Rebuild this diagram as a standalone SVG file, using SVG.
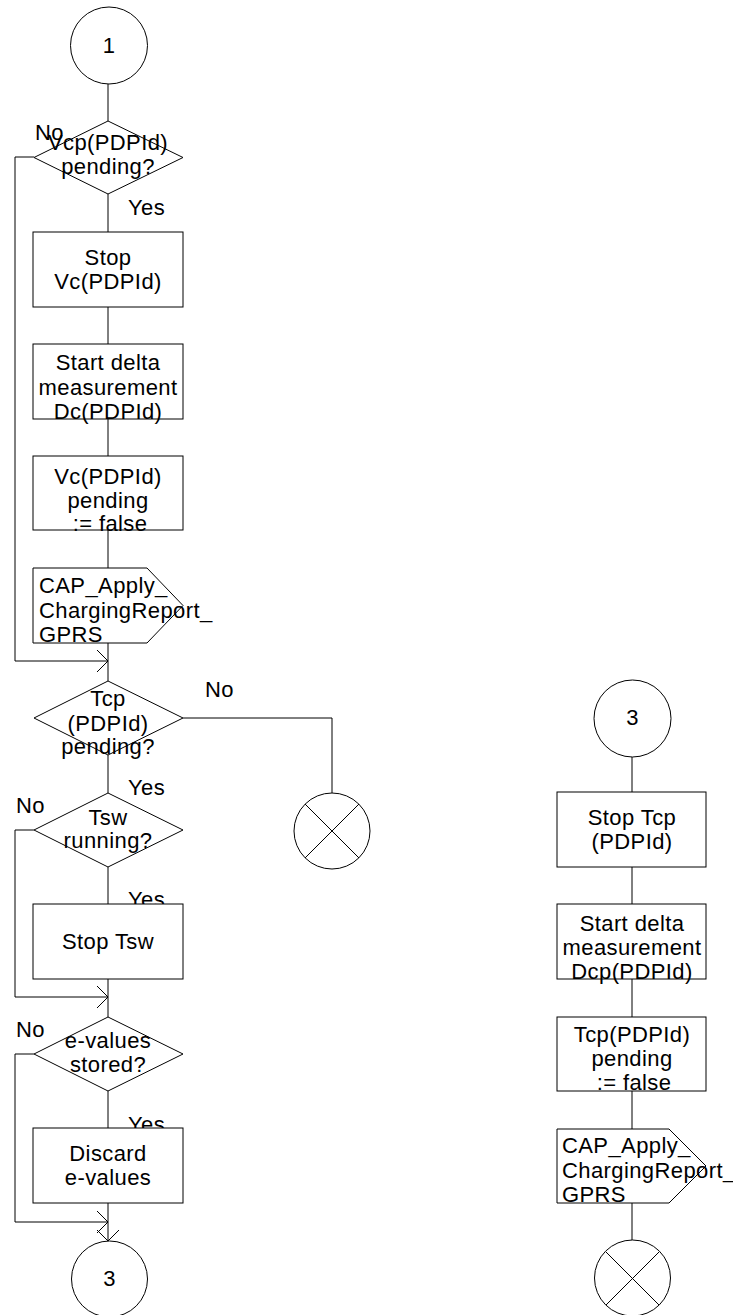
<svg xmlns="http://www.w3.org/2000/svg" width="733" height="1315" viewBox="0 0 733 1315">
<style>
.s{fill:#fff;stroke:#000;stroke-width:1}
.c{fill:none;stroke:#000;stroke-width:1}
text{font-family:"Liberation Sans",Arial,sans-serif;font-size:22px;letter-spacing:0.4px;fill:#000}
.m{text-anchor:middle}
</style>
<defs>
<marker id="arr" markerUnits="userSpaceOnUse" markerWidth="14" markerHeight="26" refX="11" refY="11" orient="auto" viewBox="-1 -1 14 24">
<path d="M0,0 L11,11 L0,22" fill="none" stroke="#000" stroke-width="1"/>
</marker>
</defs>
<rect width="733" height="1315" fill="#fff"/>
<g id="connectors" class="c">
<path d="M108,84 V121"/>
<path d="M108,194 V232"/>
<path d="M108,307 V344"/>
<path d="M108,419 V456"/>
<path d="M108,530 V568"/>
<path d="M108,643 V681"/>
<path d="M34,157 H15 V661 H108" marker-end="url(#arr)"/>
<path d="M183,718 H332 V793"/>
<path d="M108,755 V793"/>
<path d="M108,867 V904"/>
<path d="M34,830 H15 V997 H108" marker-end="url(#arr)"/>
<path d="M108,979 V1017"/>
<path d="M108,1091 V1128"/>
<path d="M34,1054 H15 V1222 H108" marker-end="url(#arr)"/>
<path d="M108,1203 V1241" marker-end="url(#arr)"/>
<path d="M632,757 V792"/>
<path d="M632,867 V904"/>
<path d="M632,979 V1017"/>
<path d="M632,1091 V1129"/>
<path d="M632,1203 V1240"/>
</g>
<g id="start1">
<circle class="s" cx="109" cy="45.5" r="38.5"/>
<text class="m" x="109" y="53">1</text>
</g>
<g id="dec_vcp">
<polygon class="s" points="108,121 183,157.5 108,194 34,157.5"/>
<text class="m" x="108" y="150">Vcp(PDPId)</text>
<text class="m" x="108" y="174">pending?</text>
<text x="35" y="140">No</text>
<text x="128" y="215">Yes</text>
</g>
<g id="box_stopvc">
<rect class="s" x="33" y="232" width="150" height="75"/>
<text class="m" x="108" y="265">Stop</text>
<text class="m" x="108" y="289">Vc(PDPId)</text>
</g>
<g id="box_startdc">
<rect class="s" x="33" y="344" width="150" height="75"/>
<text class="m" x="108" y="370">Start delta</text>
<text class="m" x="108" y="395">measurement</text>
<text class="m" x="108" y="419">Dc(PDPId)</text>
</g>
<g id="box_vcfalse">
<rect class="s" x="33" y="456" width="150" height="74"/>
<text class="m" x="108" y="484">Vc(PDPId)</text>
<text class="m" x="108" y="508">pending</text>
<text class="m" x="110" y="531">:= false</text>
</g>
<g id="out1">
<polygon class="s" points="33,568 147,568 183,605.5 147,643 33,643"/>
<text x="39" y="593">CAP_Apply_</text>
<text x="39" y="618">ChargingReport_</text>
<text x="39" y="642">GPRS</text>
</g>
<g id="dec_tcp">
<polygon class="s" points="108,681 183,718 108,755 34,718"/>
<text class="m" x="108" y="706">Tcp</text>
<text class="m" x="108" y="731">(PDPId)</text>
<text class="m" x="108" y="754">pending?</text>
<text x="205" y="697">No</text>
<text x="128" y="795">Yes</text>
</g>
<g id="stop1">
<circle class="s" cx="332" cy="831" r="38"/>
<path class="c" d="M305,804 L359,858 M359,804 L305,858"/>
</g>
<g id="dec_tsw">
<polygon class="s" points="108,793 183,830 108,867 34,830"/>
<text class="m" x="108" y="825">Tsw</text>
<text class="m" x="108" y="848">running?</text>
<text x="16" y="813">No</text>
<text x="128" y="907">Yes</text>
</g>
<g id="box_stoptsw">
<rect class="s" x="33" y="904" width="150" height="75"/>
<text class="m" x="108" y="949">Stop Tsw</text>
</g>
<g id="dec_evalues">
<polygon class="s" points="108,1017 183,1054 108,1091 34,1054"/>
<text class="m" x="108" y="1048">e-values</text>
<text class="m" x="108" y="1072">stored?</text>
<text x="16" y="1037">No</text>
<text x="128" y="1132">Yes</text>
</g>
<g id="box_discard">
<rect class="s" x="33" y="1128" width="150" height="75"/>
<text class="m" x="108" y="1161">Discard</text>
<text class="m" x="108" y="1185">e-values</text>
</g>
<g id="conn3_out">
<circle class="s" cx="109.5" cy="1279" r="38"/>
<text class="m" x="109.5" y="1286">3</text>
</g>
<g id="conn3_in">
<circle class="s" cx="632.5" cy="718.5" r="38.5"/>
<text class="m" x="632.5" y="725">3</text>
</g>
<g id="box_stoptcp">
<rect class="s" x="557" y="792" width="149" height="75"/>
<text class="m" x="632" y="825">Stop Tcp</text>
<text class="m" x="632" y="849">(PDPId)</text>
</g>
<g id="box_startdcp">
<rect class="s" x="557" y="904" width="149" height="75"/>
<text class="m" x="632" y="931">Start delta</text>
<text class="m" x="632" y="955">measurement</text>
<text class="m" x="632" y="979">Dcp(PDPId)</text>
</g>
<g id="box_tcpfalse">
<rect class="s" x="557" y="1017" width="149" height="74"/>
<text class="m" x="632" y="1042">Tcp(PDPId)</text>
<text class="m" x="632" y="1066">pending</text>
<text class="m" x="634" y="1090">:= false</text>
</g>
<g id="out2">
<polygon class="s" points="557,1129 669,1129 706,1166 669,1203 557,1203"/>
<text x="562" y="1153">CAP_Apply_</text>
<text x="562" y="1178">ChargingReport_</text>
<text x="562" y="1202">GPRS</text>
</g>
<g id="stop2">
<circle class="s" cx="632.5" cy="1278" r="38"/>
<path class="c" d="M606,1252 L659,1305 M659,1252 L606,1305"/>
</g>
</svg>
